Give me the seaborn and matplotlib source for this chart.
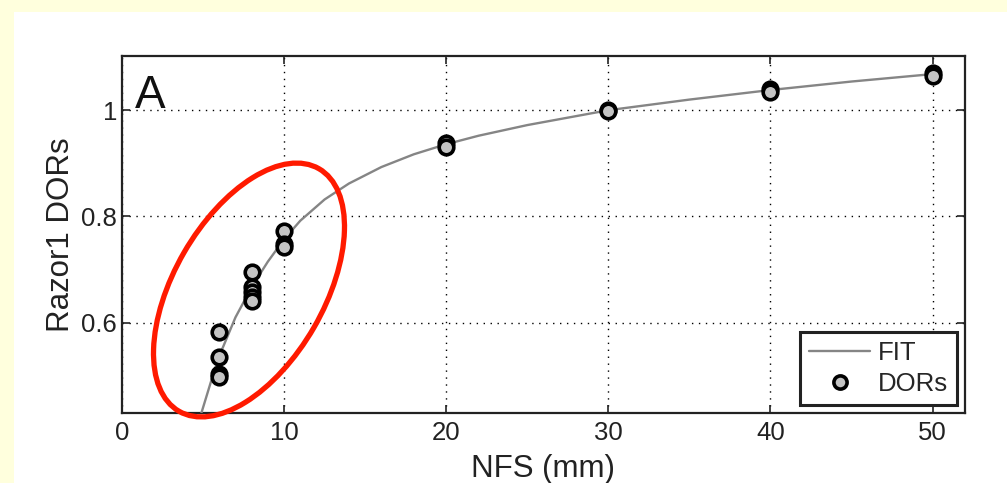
import numpy as np
import pandas as pd
import seaborn as sns
import matplotlib.pyplot as plt
from matplotlib.patches import Ellipse, Rectangle
from matplotlib.lines import Line2D
from matplotlib.transforms import IdentityTransform

# DOR measurements per NFS (mm)
nfs = [6, 6, 6, 6, 8, 8, 8, 8, 8, 10, 10, 10, 20, 20, 30, 30, 40, 40, 50, 50]
dors = [0.582, 0.535, 0.503, 0.498,
        0.695, 0.667, 0.657, 0.648, 0.640,
        0.772, 0.748, 0.742,
        0.938, 0.930,
        1.000, 0.998,
        1.040, 1.034,
        1.070, 1.064]

# fitted curve
fit_x = [4.9, 5.5, 6, 7, 8, 9, 10, 11, 12.5, 14, 16, 18, 20, 22, 25, 30, 35, 40, 45, 50]
fit_y = [0.43, 0.49, 0.537, 0.61, 0.667, 0.715, 0.757, 0.792, 0.832, 0.862,
         0.893, 0.917, 0.936, 0.952, 0.972, 1.0, 1.02, 1.038, 1.054, 1.068]

x_ticks = [0, 10, 20, 30, 40, 50]
y_ticks = [0.6, 0.8, 1.0]
y_tick_labels = ["0.6", "0.8", "1"]

sns.set_style("ticks")
plt.rcParams["font.family"] = ["Liberation Sans", "DejaVu Sans"]

fig = plt.figure(figsize=(10.07, 4.83), dpi=100, facecolor="#FFFFDD")
# white panel behind the plot
fig.patches.append(Rectangle((14 / 1007, 0), 1, 1 - 12 / 483, transform=fig.transFigure,
                             facecolor="white", edgecolor="none", zorder=-5))
ax = fig.add_axes([0.1211, 0.1449, 0.8372, 0.7391])
ax.set_zorder(1)

df_pts = pd.DataFrame({"NFS": nfs, "DORs": dors})
df_fit = pd.DataFrame({"NFS": fit_x, "FIT": fit_y})

sns.lineplot(data=df_fit, x="NFS", y="FIT", ax=ax, color="#858585", linewidth=1.7, zorder=3)
sns.scatterplot(data=df_pts, x="NFS", y="DORs", ax=ax, color="#c4c4c4", edgecolor="black",
                linewidth=2.6, s=110, zorder=4)

ax.set_xlim(0, 52)
ax.set_ylim(0.43, 1.102)
ax.set_xticks(x_ticks)
ax.set_yticks(y_ticks)
ax.set_yticklabels(y_tick_labels)
ax.grid(True, linestyle=(0, (1, 4)), color="black", linewidth=1.0)
ax.tick_params(direction="in", length=6, width=1.2, labelsize=18.5, colors="#222222",
               top=True, right=True)
ax.tick_params(axis="x", pad=6)
ax.tick_params(axis="y", pad=3.5)
for sp in ax.spines.values():
    sp.set_visible(True)
    sp.set_linewidth(1.6)
    sp.set_color("#222222")

ax.set_xlabel("NFS (mm)", fontsize=22.5, labelpad=6, color="#222222")
ax.set_ylabel("Razor1 DORs", fontsize=22.5, labelpad=4, color="#222222")
ax.text(0.015, 0.854, "A", transform=ax.transAxes, fontsize=33, va="baseline", ha="left",
        color="#111111")

handles = [Line2D([], [], color="#858585", linewidth=1.7),
           Line2D([], [], marker="o", linestyle="none", markerfacecolor="#c4c4c4",
                  markeredgecolor="black", markeredgewidth=2.6, markersize=9.5)]
leg = ax.legend(handles, ["FIT", "DORs"], loc="lower right", fontsize=18.5, frameon=True,
                fancybox=False, borderaxespad=0.3, handlelength=2.4, handletextpad=0.3,
                labelspacing=0.3, borderpad=0.35)
leg.get_frame().set_edgecolor("#222222")
leg.get_frame().set_linewidth(2.2)
leg.get_frame().set_alpha(1)

# red highlight ellipse (pixel coordinates)
ell = Ellipse((249, 483 - 290), width=280, height=150, angle=60, transform=IdentityTransform(),
              facecolor="none", edgecolor="#ff1a00", linewidth=3.8, zorder=6, clip_on=False)
fig.patches.append(ell)

fig.savefig("out.png", dpi=100, facecolor=fig.get_facecolor())
